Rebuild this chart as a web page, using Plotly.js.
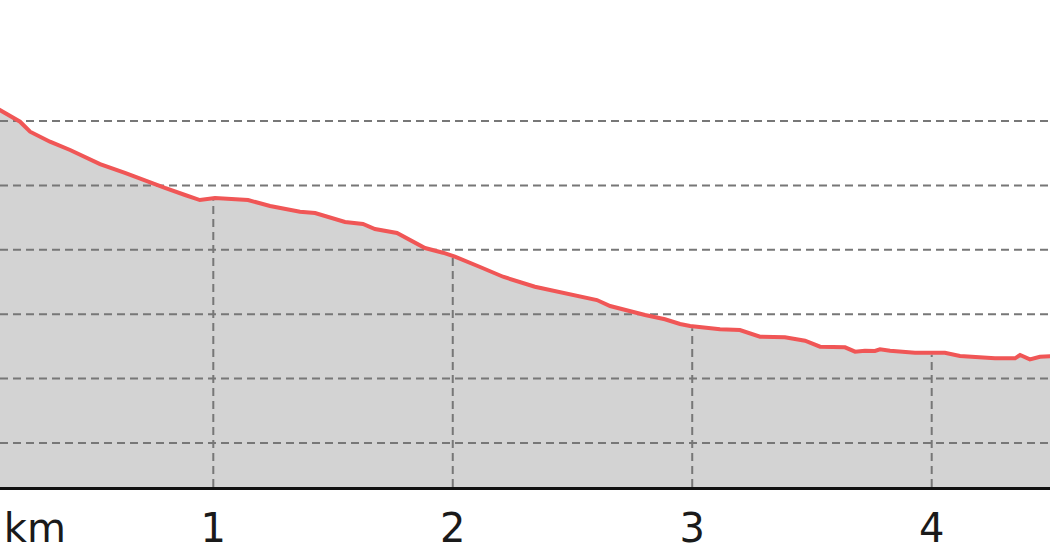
<!DOCTYPE html>
<html>
<head>
<meta charset="utf-8">
<script src="https://cdn.plot.ly/plotly-3.0.1.min.js"></script>
<style>html,body{margin:0;padding:0;background:#fff;}#chart{width:1050px;height:560px;}</style>
</head>
<body>
<div id="chart"></div>
<script>
// Distance along the track (km)
const distanceKm = [0.100, 0.109, 0.151, 0.193, 0.235, 0.318, 0.402, 0.527, 0.631, 0.694, 0.798, 0.882, 0.944,
  1.007, 1.145, 1.237, 1.362, 1.425, 1.487, 1.550, 1.625, 1.675, 1.767, 1.821, 1.884, 1.959,
  2.009, 2.114, 2.210, 2.343, 2.490, 2.602, 2.657, 2.719, 2.803, 2.886, 2.949, 2.991,
  3.116, 3.199, 3.283, 3.387, 3.471, 3.534, 3.638, 3.680, 3.721, 3.763, 3.784, 3.826, 3.930,
  4.055, 4.118, 4.264, 4.348, 4.369, 4.410, 4.452, 4.494, 4.510];
// Elevation (m)
const elevationM = [151.9, 151.71, 150.93, 149.89, 148.34, 146.79, 145.50, 143.32, 141.93, 140.99, 139.60, 138.51, 137.73,
  138.04, 137.73, 136.80, 135.92, 135.71, 134.94, 134.32, 134.01, 133.23, 132.61, 131.52, 130.28, 129.55,
  128.93, 127.33, 125.82, 124.27, 123.14, 122.20, 121.27, 120.65, 119.88, 119.21, 118.48, 118.17,
  117.66, 117.55, 116.51, 116.41, 115.89, 114.95, 114.86, 114.18, 114.33, 114.29, 114.55, 114.33, 114.02,
  114.02, 113.51, 113.15, 113.15, 113.66, 112.99, 113.40, 113.51, 113.5];
// Horizontal grid levels (m)
const gridElevations = [100, 110, 120, 130, 140, 150];
// X tick positions and labels
const tickKm = [0.255, 1, 2, 3, 4];
const tickLabels = ['km', '1', '2', '3', '4'];
const verticalGridKm = [1, 2, 3, 4];

const xRange = [0.1093, 4.494];
const yRange = [93.17, 168.79];

function interp(x) {
  for (let i = 0; i < distanceKm.length - 1; i++) {
    if (x >= distanceKm[i] && x <= distanceKm[i + 1]) {
      const t = (x - distanceKm[i]) / (distanceKm[i + 1] - distanceKm[i]);
      return elevationM[i] + t * (elevationM[i + 1] - elevationM[i]);
    }
  }
  return null;
}

const gridColor = '#777777';
const hx = [], hy = [];
gridElevations.forEach(g => { hx.push(xRange[0], xRange[1], null); hy.push(g, g, null); });
const vx = [], vy = [];
verticalGridKm.forEach(k => { vx.push(k, k, null); vy.push(yRange[0], interp(k) - 0.3, null); });

const traces = [
  { x: distanceKm, y: elevationM, type: 'scatter', mode: 'lines', fill: 'tozeroy',
    fillcolor: '#d3d3d3', line: { width: 0, color: '#d3d3d3' }, hoverinfo: 'skip' },
  { x: hx, y: hy, type: 'scatter', mode: 'lines', line: { color: gridColor, width: 2, dash: '8px,5px' }, hoverinfo: 'skip' },
  { x: vx, y: vy, type: 'scatter', mode: 'lines', line: { color: gridColor, width: 2, dash: '8px,5px' }, hoverinfo: 'skip' },
  { x: distanceKm, y: elevationM, type: 'scatter', mode: 'lines',
    line: { color: '#f05656', width: 4 }, hoverinfo: 'skip' }
];

const layout = {
  width: 1050, height: 560,
  margin: { l: 0, r: 0, t: 0, b: 73, pad: 0 },
  paper_bgcolor: '#ffffff', plot_bgcolor: '#ffffff',
  showlegend: false,
  xaxis: {
    range: xRange, showgrid: false, zeroline: false,
    tickvals: tickKm, ticktext: tickLabels, ticks: '',
    ticklabelstandoff: 4,
    tickfont: { family: 'DejaVu Sans', size: 40, color: '#1a1a1a' },
    showline: true, linecolor: '#111111', linewidth: 2.5
  },
  yaxis: {
    range: yRange, showgrid: false, zeroline: false, showticklabels: false, ticks: '', showline: false
  }
};

Plotly.newPlot('chart', traces, layout, { staticPlot: true, displayModeBar: false });
</script>
</body>
</html>
